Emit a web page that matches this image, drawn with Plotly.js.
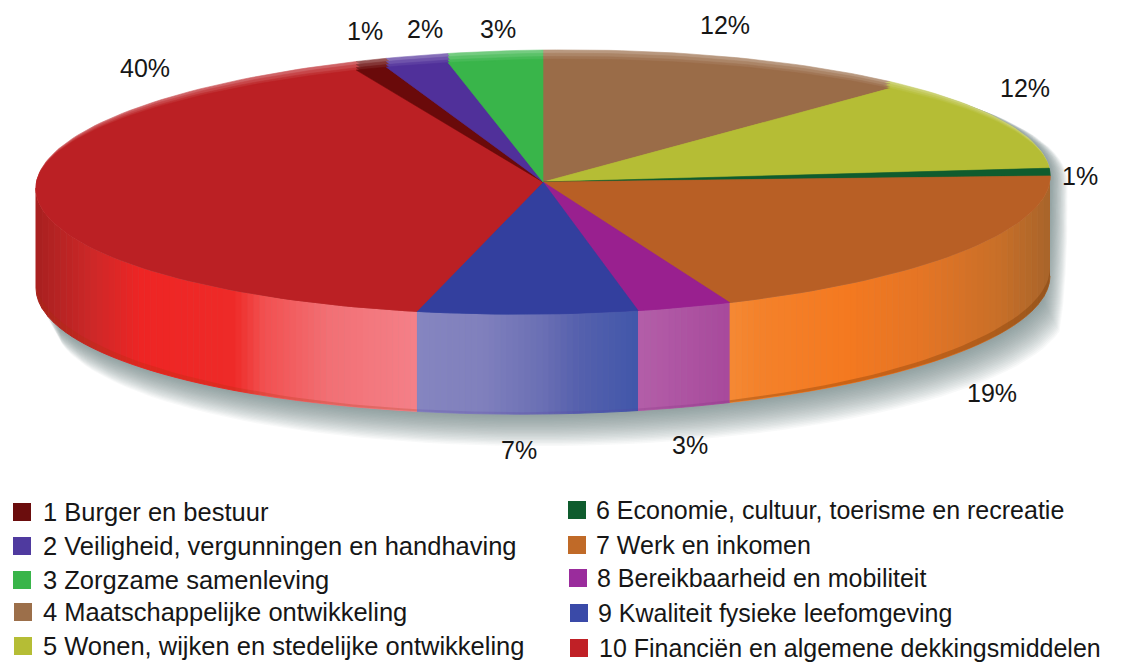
<!DOCTYPE html>
<html><head><meta charset="utf-8">
<script src="https://cdn.plot.ly/plotly-3.0.1.min.js"></script>
<style>html,body{margin:0;padding:0;background:#fff}</style></head>
<body><div id="chart" style="width:1124px;height:662px"></div>
<script>
const categories = ["1 Burger en bestuur","2 Veiligheid, vergunningen en handhaving","3 Zorgzame samenleving","4 Maatschappelijke ontwikkeling","5 Wonen, wijken en stedelijke ontwikkeling","6 Economie, cultuur, toerisme en recreatie","7 Werk en inkomen","8 Bereikbaarheid en mobiliteit","9 Kwaliteit fysieke leefomgeving","10 Financiën en algemene dekkingsmiddelen"];
const values = [1,2,3,12,12,1,19,3,7,40];
const topColors = ["#6a0a0a","#50309a","#39b54a","#9a6c48","#b5bd35","#0f5c2e","#b85f25","#99208f","#333f9e","#bb2024"];
const legendColors = ["#6b0d0d","#4f3a9f","#39b54a","#9c6f4a","#b5bd35","#0f5c2e","#c06a28","#9a2c9c","#3a4aa8","#c02026"];
// order of drawing starts at 12 o'clock with category 4
const startIndex = 3;
const labelX = [365,425,498,725,1025,1080,992,690,519,145];
const labelY = [31,29,29,25,88,176,393,445,450,68];
const legendSwatchX = [22,22,22,23,23,577,577,578,579,579];
const legendTextX = [40.5,40.5,40.5,40.5,41,594,594,595,596,596.5];
const legendY = [512,546,580,612,646,510,545,578,613,648];
// side colour stops, by horizontal position across the pie (-1 left, +1 right)
const sideStops = [[-1,"#a82020"],[-0.88,"#d02828"],[-0.79,"#ee2524"],[-0.61,"#ee2a28"],[-0.55,"#f25050"],[-0.42,"#f27075"],[-0.25,"#f48088"]];
const sideStops9 = [[-0.25,"#8585c0"],[-0.12,"#8080bd"],[0,"#6a6fb4"],[0.07,"#5560ad"],[0.18,"#4257aa"]];
const sideStops8 = [[0.18,"#b45fa9"],[0.36,"#a84a9c"]];
const sideStops7 = [[0.36,"#f58a35"],[0.43,"#f4812a"],[0.6,"#f47920"],[0.75,"#e47525"],[0.9,"#c86f28"],[1,"#a8642a"]];
const sideStopsBySlice = {6:sideStops7,7:sideStops8,8:sideStops9,9:sideStops};
const rimBySlice = {6:"rgba(110,50,0,0.3)",7:"rgba(120,40,120,0.2)",8:"rgba(90,60,160,0.2)",9:"rgba(170,50,10,0.22)"};

const CX=543, CY=182, RX=507, RY=132, DEPTH=100, SHEAR=-0.012;
const px=(t)=>CX+RX*Math.sin(2*Math.PI*t);
const py=(t,k,d)=>{const c=Math.cos(2*Math.PI*t);const kk=c>0?k:1;return CY-RY*c*kk+SHEAR*(px(t)-CX)+(d||0);};
const tFromX=(x)=>0.5-Math.asin(Math.max(-1,Math.min(1,(x-CX)/RX)))/(2*Math.PI);
const hex=(h)=>[1,3,5].map(i=>parseInt(h.substr(i,2),16));
const toHex=(a)=>'rgb('+a.map(v=>Math.round(v)).join(',')+')';
const mix=(a,b,f)=>a.map((v,i)=>v+(b[i]-v)*f);
function stopColor(stops,u){
  if(u<=stops[0][0])return toHex(hex(stops[0][1]));
  for(let i=1;i<stops.length;i++){ if(u<=stops[i][0]){const f=(u-stops[i-1][0])/(stops[i][0]-stops[i-1][0]);return toHex(mix(hex(stops[i-1][1]),hex(stops[i][1]),f));}}
  return toHex(hex(stops[stops.length-1][1]));
}
const poly=(x,y,color,w)=>({type:'scatter',mode:'lines',x,y,fill:'toself',fillcolor:color,line:{color:w?color:'rgba(0,0,0,0)',width:w||0},hoverinfo:'skip',showlegend:false});

const traces=[];
// soft shadow, cast down and to the right of the whole cylinder
const shadowLayers=22;
for(let s=shadowLayers;s>=1;s--){
  const xs=[],ys=[];
  for(let i=0;i<=140;i++){const t=i/140;const c=Math.cos(2*Math.PI*t);const sn=Math.sin(2*Math.PI*t);
    xs.push(CX+s*0.8+RX*sn);
    ys.push(CY-RY*c+SHEAR*(RX*sn)+(c<0?DEPTH*Math.min(1,-c*6)+s*1.45:(s*0.3)));}
  traces.push(poly(xs,ys,'rgba(100,112,125,0.042)'));
}
// build slice spans
const total=values.reduce((a,b)=>a+b,0);
const spans=[];let acc=0;
for(let n=0;n<values.length;n++){const i=(startIndex+n)%values.length;spans.push({i,a:acc/total,b:(acc+values[i])/total});acc+=values[i];}
const leftEnd=0.75,rightEnd=0.25;
// side wall strips, evenly wide on screen
spans.forEach(sp=>{
  const stops=sideStopsBySlice[sp.i]; if(!stops)return;
  const a=Math.max(sp.a,rightEnd), b=Math.min(sp.b,leftEnd); if(b<=a)return;
  const xa=px(a),xb=px(b);
  const n=Math.max(4,Math.round(Math.abs(xb-xa)/6));
  for(let k=0;k<n;k++){
    const t0=tFromX(xa+(xb-xa)*k/n),t1=tFromX(xa+(xb-xa)*(k+1)/n);
    const xs=[],ys=[];
    for(let m=0;m<=3;m++){const t=t0+(t1-t0)*m/3;xs.push(px(t));ys.push(py(t,1,0));}
    for(let m=3;m>=0;m--){const t=t0+(t1-t0)*m/3;xs.push(px(t));ys.push(py(t,1,DEPTH));}
    const c=stopColor(stops,(xa+(xb-xa)*(k+0.5)/n-CX)/RX);
    traces.push(poly(xs,ys,c,1));
  }
  // darker lower rim
  const xs=[],ys=[];
  for(let m=0;m<=40;m++){const t=a+(b-a)*m/40;xs.push(px(t));ys.push(py(t,1,DEPTH));}
  for(let m=40;m>=0;m--){const t=a+(b-a)*m/40;const u=Math.abs(px(t)-CX)/RX;xs.push(px(t));ys.push(py(t,1,DEPTH-(2+6*u*u*u)));}
  traces.push(poly(xs,ys,rimBySlice[sp.i]));
});
// top wedges: light rim layers, then the main face
const wedge=(sp,k,color)=>{
  const n=Math.max(3,Math.ceil((sp.b-sp.a)*240));
  const xs=[CX],ys=[CY];
  for(let m=0;m<=n;m++){const t=sp.a+(sp.b-sp.a)*m/n;xs.push(px(t));ys.push(py(t,k));}
  xs.push(CX);ys.push(CY);
  return poly(xs,ys,color,0.6);
};
[[1,0.3],[0.975,0.17],[0.95,0.07],[0.93,0]].forEach(([k,f])=>{
  spans.forEach(sp=>{
    traces.push(wedge(sp,k,toHex(mix(hex(topColors[sp.i]),[255,255,255],f))));
  });
});
// legend swatches
categories.forEach((name,i)=>{
  traces.push({type:'scatter',mode:'markers',x:[legendSwatchX[i]],y:[legendY[i]],name,
    marker:{symbol:'square',size:18,color:legendColors[i]},hoverinfo:'skip',showlegend:false});
});
const FONT="Liberation Sans, Arial, sans-serif";
const annotations=values.map((v,i)=>({x:labelX[i],y:labelY[i],xref:'x',yref:'y',text:v+'%',showarrow:false,
  font:{family:FONT,size:25,color:'#161616'}})).concat(
  categories.map((name,i)=>({x:legendTextX[i],y:legendY[i],xref:'x',yref:'y',text:name,showarrow:false,xanchor:'left',yanchor:'middle',
  font:{family:FONT,size:i<5?25.5:25,color:'#161616'}})));
Plotly.newPlot('chart',traces,{
  width:1124,height:662,margin:{l:0,r:0,t:0,b:0,autoexpand:false},paper_bgcolor:'#fff',plot_bgcolor:'#fff',
  xaxis:{range:[0,1124],visible:false,fixedrange:true},
  yaxis:{range:[662,0],visible:false,fixedrange:true},
  showlegend:false,annotations
},{displayModeBar:false,staticPlot:true});
</script></body></html>
